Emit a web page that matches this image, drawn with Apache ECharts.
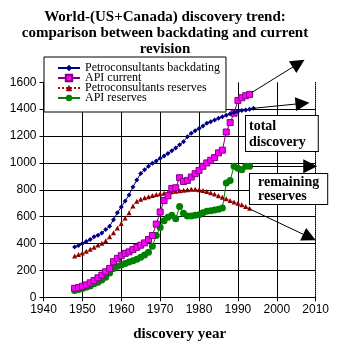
<!DOCTYPE html>
<html><head><meta charset="utf-8">
<script src="https://cdn.jsdelivr.net/npm/echarts@6/dist/echarts.min.js"></script>
<style>html,body{margin:0;padding:0;background:#fff}#c{width:341px;height:347px}</style>
</head><body><div id="c"></div>
<script>
const titleText = 'World-(US+Canada) discovery trend:\ncomparison between backdating and current\nrevision';
const xName = 'discovery year';
const seriesNames = ['Petroconsultants backdating','API current','Petroconsultants reserves','API reserves'];
const startYear = 1948;
const petroBackdating = [375,385,400,415,430,450,462,478,505,528,578,630,672,716,762,820,873,922,950,975,997,1015,1034,1052,1071,1090,1112,1135,1158,1195,1220,1240,1257,1275,1295,1307,1320,1332,1343,1355,1366,1375,1383,1390,1394,1400,1406];
const apiCurrent = [67,72,82,92,108,125,145,165,190,215,265,290,310,327,338,355,372,388,405,430,460,545,635,720,755,810,815,890,862,870,895,920,945,975,1000,1020,1040,1075,1095,1230,1300,1370,1465,1485,1500,1510];
const petroReserves = [307,318,330,343,357,372,389,402,420,450,480,515,550,590,630,680,715,730,740,748,758,765,770,775,780,785,790,793,797,800,805,805,800,795,787,778,768,755,745,733,720,710,700,688,675,662];
const apiReserves = [50,58,66,74,84,100,112,128,150,180,215,232,240,252,262,272,283,298,315,335,380,460,520,570,595,610,585,675,625,605,605,610,615,630,640,645,650,655,665,850,870,975,960,950,975,975];
// extrapolation arrows [year, value] start -> end (annotations)
const arrows = [
  [[1993.6,1525],[2005.6,1740]],
  [[1993.8,1406],[2006.6,1443]],
  [[1993.6,975],[2008.6,975]],
  [[1992.7,662],[2008.4,447]]
];
const annTotal = 'total\ndiscovery';
const annRemaining = 'remaining\nreserves';

function pairs(arr){ return arr.map((v,i)=>[startYear+i, v]); }

const serif = '"Liberation Serif","Times New Roman",serif';
const sans = '"Liberation Sans Narrow","Liberation Sans",Arial,sans-serif';

const chart = echarts.init(document.getElementById('c'));
const option = {
  animation:false,
  backgroundColor:'#fff',
  title:{text:titleText,left:160,top:4,textAlign:'center',
    textStyle:{fontFamily:serif,fontWeight:'bold',fontSize:15,lineHeight:16,color:'#000'}},
  legend:{
    orient:'vertical',left:44,top:57,
    backgroundColor:'#fff',borderColor:'#000',borderWidth:1,borderRadius:0,
    padding:[5,6,8,13],itemGap:-2,itemWidth:22,itemHeight:8,
    textStyle:{fontFamily:serif,fontSize:12,color:'#000'},
    data:seriesNames
  },
  grid:{left:43.5,right:25.3,top:82.3,bottom:49.7,containLabel:false},
  xAxis:[{
    type:'value',min:1940,max:2010,interval:10,
    name:xName,nameLocation:'middle',nameGap:29,
    nameTextStyle:{fontFamily:serif,fontWeight:'bold',fontSize:15,color:'#000'},
    axisLine:{lineStyle:{color:'#000',width:1}},
    axisTick:{show:true,length:4,lineStyle:{color:'#000'}},
    axisLabel:{fontFamily:sans,fontSize:12,color:'#000',margin:6,formatter:v=>String(v)},
    splitLine:{show:true,showMaxLine:false,lineStyle:{color:'#000',width:1}}
  },{
    type:'value',position:'top',min:1940,max:2010,interval:10,
    axisLine:{show:true,lineStyle:{color:'#000',type:'dotted',width:1}},
    axisTick:{show:false},axisLabel:{show:false},splitLine:{show:false}
  }],
  yAxis:[{
    type:'value',min:0,max:1600,interval:200,
    axisLine:{show:true,lineStyle:{color:'#000',width:1}},
    axisTick:{show:true,length:4,lineStyle:{color:'#000'}},
    axisLabel:{fontFamily:sans,fontSize:12,color:'#000',margin:7,formatter:v=>String(v)},
    splitLine:{show:true,showMaxLine:false,lineStyle:{color:'#000',width:1}}
  },{
    type:'value',position:'right',min:0,max:1600,interval:200,
    axisLine:{show:true,lineStyle:{color:'#000',type:'dotted',width:1}},
    axisTick:{show:false},axisLabel:{show:false},splitLine:{show:false}
  }],
  series:[
    {name:seriesNames[0],type:'line',data:pairs(petroBackdating),symbol:'diamond',symbolSize:5,
      itemStyle:{color:'#000080'},lineStyle:{color:'#000080',width:1},z:5},
    {name:seriesNames[1],type:'line',data:pairs(apiCurrent),symbol:'rect',symbolSize:6,
      itemStyle:{color:'#ff00ff',borderColor:'#800080',borderWidth:1},lineStyle:{color:'#800080',width:1},z:4},
    {name:seriesNames[2],type:'line',data:pairs(petroReserves),symbol:'triangle',symbolSize:5,
      itemStyle:{color:'#8b0000'},lineStyle:{color:'#c00000',width:1,type:'dotted'},z:3},
    {name:seriesNames[3],type:'line',data:pairs(apiReserves),symbol:'circle',symbolSize:7,
      itemStyle:{color:'#008000'},lineStyle:{color:'#008000',width:1},z:2},
    {type:'lines',coordinateSystem:'cartesian2d',clip:false,silent:true,z:6,
      symbol:['none','triangle'],symbolSize:14,
      lineStyle:{color:'#000',width:1,opacity:1,curveness:0},
      data:arrows.map(a=>({coords:a}))}
  ],
  graphic:[
    {type:'text',left:245,top:115,z:10,
      style:{text:annTotal,font:'bold 14px '+serif,fill:'#000',lineHeight:16,
        backgroundColor:'#fff',borderColor:'#000',borderWidth:1,padding:[2,12,1,3]}},
    {type:'text',left:249,top:173,z:10,
      style:{text:annRemaining,font:'bold 14px '+serif,fill:'#000',lineHeight:14,align:'center',
        backgroundColor:'#fff',borderColor:'#000',borderWidth:1,padding:[1,8,1,8]}}
  ]
};
chart.setOption(option);
</script></body></html>
